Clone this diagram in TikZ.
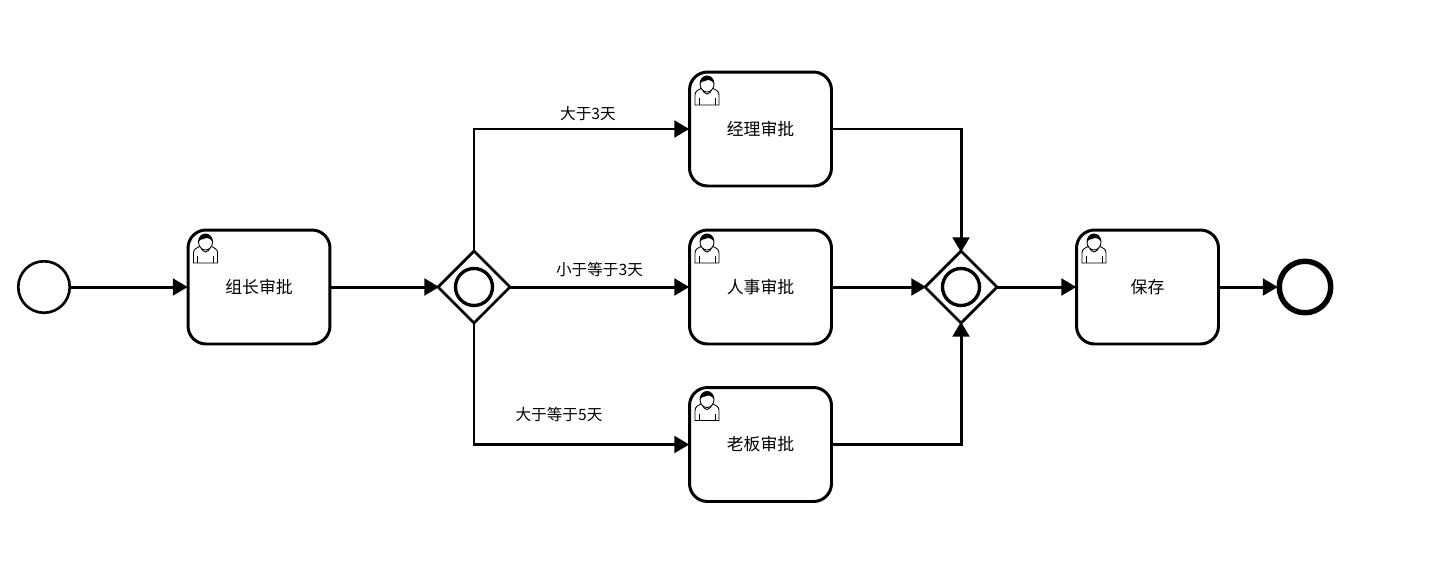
\documentclass[tikz,border=0pt]{standalone}
\usepackage{fontspec}
\newfontfamily\cjk{Noto Sans CJK SC}
\usetikzlibrary{arrows.meta,calc,shapes.geometric}
\tikzset{
  taskbox/.style={draw, line width=1.7pt, rounded corners=0.36cm, minimum width=2.84cm, minimum height=2.28cm, inner sep=0pt, font=\cjk\fontsize{9.6}{12}\selectfont},
  eventnode/.style={draw, circle, line width=1.5pt, minimum size=1.03cm, inner sep=0pt},
  endnode/.style={draw, circle, line width=3.1pt, minimum size=1.03cm, inner sep=0pt},
  gatenode/.style={draw, diamond, aspect=1, line width=1.6pt, minimum width=1.44cm, minimum height=1.44cm, inner sep=0pt, outer sep=0pt},
  ringnode/.style={draw, circle, line width=1.9pt, minimum size=0.74cm, inner sep=0pt},
  flow/.style={line width=1.7pt, shorten >=-0.7pt, -{Triangle[length=8.5pt,width=9.5pt]}},
  flowlabel/.style={inner sep=0pt, font=\cjk\fontsize{8.9}{11}\selectfont},
  pics/usericon/.style={code={
    \draw[line width=0.5pt, fill=white] (-12,21) -- (-12,11) .. controls (-12,7) and (-9,6) .. (-5,4) .. controls (-3,12) and (3,12) .. (5,4) .. controls (9,6) and (12,7) .. (12,11) -- (12,21) -- cycle;
    \draw[line width=0.5pt] (-8,14) -- (-8,21) (8,14) -- (8,21);
    \draw[line width=0.5pt, fill=white] (0,0) ellipse (7 and 8);
    \fill (-7,0) .. controls (-7,-11) and (7,-11) .. (7,0) .. controls (5,-4) and (1,-5) .. (-2,-3) .. controls (-4,-3) and (-6,-2) .. (-7,0) -- cycle;
  }}
}
\begin{document}
\begin{tikzpicture}[x=0.02cm, y=-0.02cm]
\useasboundingbox (0,0) rectangle (1440,582);
\node[eventnode] (start) at (44,287) {};
\node[taskbox] (group) at (259,287) {组长审批};
\node[gatenode] (split) at (474,287) {};
\node[ringnode] (splitring) at (474,287) {};
\node[taskbox] (manager) at (760.5,129) {经理审批};
\node[taskbox] (hr) at (760.5,287) {人事审批};
\node[taskbox] (boss) at (760.5,444.5) {老板审批};
\node[gatenode] (join) at (961,287) {};
\node[ringnode] (joinring) at (961,287) {};
\node[taskbox] (save) at (1147.5,287) {保存};
\node[endnode] (end) at (1305,287) {};
% user icons
\pic at ($(group.north west)+(19,13.5)$) {usericon};
\pic at ($(manager.north west)+(19,13.5)$) {usericon};
\pic at ($(hr.north west)+(19,13.5)$) {usericon};
\pic at ($(boss.north west)+(19,13.5)$) {usericon};
\pic at ($(save.north west)+(19,13.5)$) {usericon};
% flows
\draw[flow] (start) -- (group);
\draw[flow] (group) -- (split);
\draw[flow] (split.north) |- (manager.west);
\draw[flow] (split) -- (hr);
\draw[flow] (split.south) |- (boss.west);
\draw[flow] (manager.east) -| (join.north);
\draw[flow] (hr) -- (join);
\draw[flow] (boss.east) -| (join.south);
\draw[flow] (join) -- (save);
\draw[flow] (save) -- (end);
% labels
\node[flowlabel] (gt3) at (588,114) {大于3天};
\node[flowlabel] (le3) at (599.5,270) {小于等于3天};
\node[flowlabel] (ge5) at (559,414.5) {大于等于5天};
\end{tikzpicture}
\end{document}
